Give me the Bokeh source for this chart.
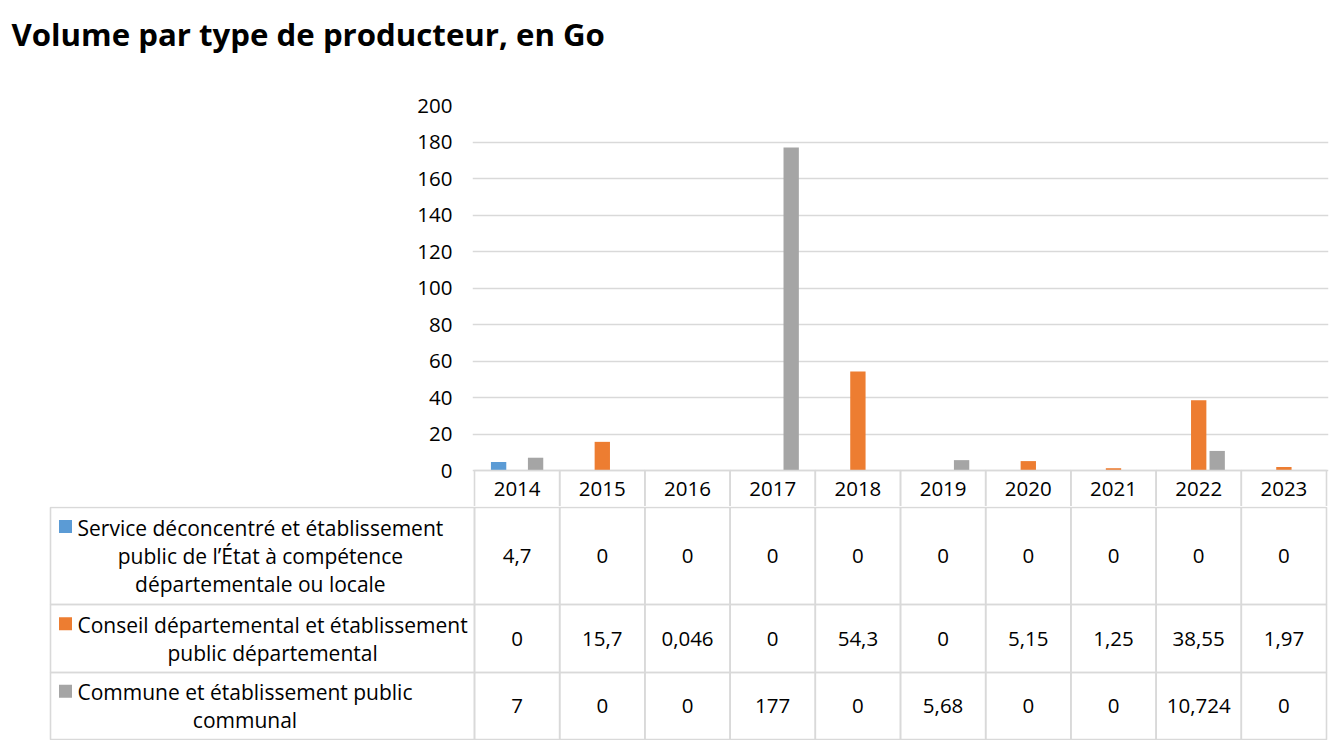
from bokeh.plotting import figure
from bokeh.models import FactorRange, Range1d, FixedTicker, ColumnDataSource
from bokeh.transform import dodge
from bokeh.core.properties import value
from bokeh.embed import file_html
from bokeh.resources import INLINE

# ---------------- data ----------------
title_text = "Volume par type de producteur, en Go"
years = ["2014", "2015", "2016", "2017", "2018", "2019", "2020", "2021", "2022", "2023"]
series_labels = [
    "Service déconcentré et établissement\npublic de l’État à compétence\ndépartementale ou locale",
    "Conseil départemental et établissement\npublic départemental",
    "Commune et établissement public\ncommunal",
]
service = [4.7, 0, 0, 0, 0, 0, 0, 0, 0, 0]
conseil = [0, 15.7, 0.046, 0, 54.3, 0, 5.15, 1.25, 38.55, 1.97]
commune = [7, 0, 0, 177, 0, 5.68, 0, 0, 10.724, 0]
y_ticks = [0, 20, 40, 60, 80, 100, 120, 140, 160, 180, 200]
colors = ["#5B9BD5", "#ED7D31", "#A5A5A5"]

series = [service, conseil, commune]

FONT = "Open Sans"
FS = "20.5px"
FS_LEG = "21px"
GRID = "#d9d9d9"
TXT = "#000000"
TLW = 1.6

# ---------------- layout constants (pixels) ----------------
W = 1344
title_h = 70
frame_left = 474
col_px = 852 / 10.0
pad = 2
plot_top = 105
plot_h = 365
y_max = 200
ppu = plot_h / y_max
header_h = 36
legend_px = 424
key_px = 15
text_px = 27
row_h = [97, 68, 67]
line_h = 29.5

# ---------------- title strip ----------------
tt = figure(x_range=Range1d(0, W), y_range=Range1d(title_h, 0), width=W, height=title_h,
            min_border=0, x_axis_location=None, y_axis_location=None,
            toolbar_location=None, output_backend="svg")
tt.outline_line_color = None
tt.grid.grid_line_color = None
tt.text(x=[11], y=[33], text=[title_text], text_align="left", text_baseline="middle",
        text_font=value(FONT), text_font_size="31.2px", text_font_style="bold", text_color=TXT)

# ---------------- chart (with year header row) ----------------
src = ColumnDataSource(dict(year=years, s0=service, s1=conseil, s2=commune))

p = figure(
    x_range=FactorRange(*years, range_padding=pad / col_px, range_padding_units="absolute"),
    y_range=Range1d(-header_h / ppu, y_max),
    width=W, height=plot_top - title_h + plot_h + header_h,
    min_border_left=frame_left - pad,
    min_border_right=W - (frame_left - pad) - int(852 + 2 * pad),
    min_border_top=plot_top - title_h, min_border_bottom=0,
    x_axis_location=None,
    toolbar_location=None, output_backend="svg",
)
p.outline_line_color = None
p.xgrid.grid_line_color = None
p.ygrid.grid_line_color = GRID
p.ygrid.grid_line_width = 1.3
p.ygrid.ticker = FixedTicker(ticks=y_ticks)
p.yaxis.ticker = FixedTicker(ticks=y_ticks)
p.yaxis.axis_line_color = None
p.yaxis.major_tick_line_color = None
p.yaxis.minor_tick_line_color = None
p.yaxis.major_tick_out = 0
p.yaxis.major_tick_in = 0
p.yaxis.major_label_standoff = frame_left - pad - 452
p.yaxis.major_label_text_font = FONT
p.yaxis.major_label_text_font_size = FS
p.yaxis.major_label_text_color = TXT

offsets = [-0.217, 0.0, 0.217]
for i, col in enumerate(["s0", "s1", "s2"]):
    p.vbar(x=dodge("year", offsets[i], range=p.x_range), top=col, bottom=0,
           width=0.18, source=src, fill_color=colors[i], line_color=None)

# header cells (years)
p.quad(left=dodge("year", -0.5, range=p.x_range), right=dodge("year", 0.5, range=p.x_range),
       top=0, bottom=-(header_h + 2) / ppu, source=src,
       fill_color=None, line_color=GRID, line_width=TLW)
p.text(x="year", y=-header_h / 2 / ppu, text="year", source=src,
       text_align="center", text_baseline="middle", text_font=value(FONT),
       text_font_size=FS, text_color=TXT)

# ---------------- data table ----------------
total_h = 1 + sum(row_h) + 1
t = figure(
    x_range=Range1d(-(legend_px + pad) / col_px, len(years) + pad / col_px),
    y_range=Range1d(total_h, 0),
    width=W, height=total_h,
    min_border_left=frame_left - legend_px - pad,
    min_border_right=W - (frame_left - legend_px - pad) - int(legend_px + 852 + 2 * pad),
    min_border_top=0, min_border_bottom=0,
    x_axis_location=None, y_axis_location=None,
    toolbar_location=None, output_backend="svg",
)
t.outline_line_color = None
t.grid.grid_line_color = None

bounds = [1]
for h in row_h:
    bounds.append(bounds[-1] + h)

n = len(years)


def fmt(v):
    return str(v).replace(".", ",")


leg_left = -legend_px / col_px
for r, vals in enumerate(series):
    top, bot = bounds[r], bounds[r + 1]
    cy = (top + bot) / 2
    t.quad(left=[leg_left] + list(range(n)), right=[0] + [i + 1 for i in range(n)],
           top=[top] * (n + 1), bottom=[bot] * (n + 1),
           fill_color=None, line_color=GRID, line_width=TLW)
    t.text(x=[i + 0.5 for i in range(n)], y=[cy] * n, text=[fmt(v) for v in vals],
           text_align="center", text_baseline="middle", text_font=value(FONT),
           text_font_size=FS, text_color=TXT)
    nlines = series_labels[r].count("\n") + 1
    t.text(x=[leg_left + text_px / col_px], y=[cy], text=[series_labels[r]],
           anchor="center_left", text_align="center", text_baseline="middle",
           text_line_height=1.0,
           text_font=value(FONT), text_font_size=FS_LEG, text_color=TXT)
    t.scatter(x=[leg_left + key_px / col_px], y=[cy - (nlines - 1) / 2 * line_h],
              marker="square", size=13, fill_color=colors[r], line_color=None)

open("out.html", "w").write(file_html([tt, p, t], INLINE))
